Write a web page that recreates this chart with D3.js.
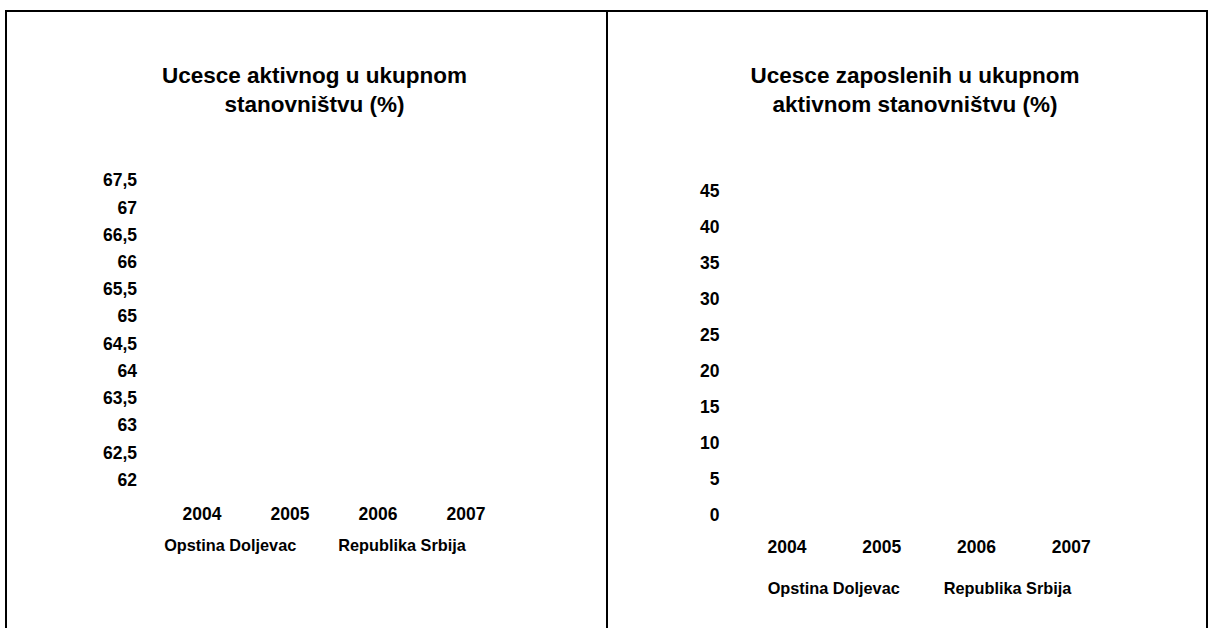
<!DOCTYPE html>
<html>
<head>
<meta charset="utf-8">
<script src="https://cdn.jsdelivr.net/npm/d3@7"></script>
<style>
  html, body { margin: 0; padding: 0; background: #fff; }
  svg { display: block; }
  text { font-family: "Liberation Sans", Arial, sans-serif; font-weight: bold; fill: #000; }
</style>
</head>
<body>
<svg id="chart" width="1213" height="628"></svg>
<script>
// ---- Data (no bar values are visible, so they are left unknown) ----
const categories = ["2004", "2005", "2006", "2007"];
const seriesNames = ["Opstina Doljevac", "Republika Srbija"];

// Chart 1: Ucesce aktivnog u ukupnom stanovništvu (%)
const title1 = ["Ucesce aktivnog u ukupnom", "stanovništvu (%)"];
const yTicks1 = [62, 62.5, 63, 63.5, 64, 64.5, 65, 65.5, 66, 66.5, 67, 67.5];
const active_Doljevac = [null, null, null, null];
const active_Srbija = [null, null, null, null];

// Chart 2: Ucesce zaposlenih u ukupnom aktivnom stanovništvu (%)
const title2 = ["Ucesce zaposlenih u ukupnom", "aktivnom stanovništvu (%)"];
const yTicks2 = [0, 5, 10, 15, 20, 25, 30, 35, 40, 45];
const employed_Doljevac = [null, null, null, null];
const employed_Srbija = [null, null, null, null];

const seriesColors = ["#9999ff", "#993366"];

// ---- Layout ----
const svg = d3.select("#chart");
const locale = d3.formatLocale({ decimal: ",", thousands: ".", grouping: [3], currency: ["", ""] });
const fmt = locale.format("~f");

const panels = [
  {
    box: { x: 6, y: 11, w: 601, h: 640 },
    title: title1, titleX: 314.5, titleY: [82.5, 111.5],
    x: [158, 510], y: [479, 179.5],
    yTicks: yTicks1, series: [active_Doljevac, active_Srbija],
    tickRight: 137, yearY: 513.5, legendX: 315, legendY: 551, legendGap: 42
  },
  {
    box: { x: 607, y: 11, w: 600, h: 640 },
    title: title2, titleX: 915, titleY: [82.5, 111.5],
    x: [739.7, 1118.5], y: [514.5, 190.5],
    yTicks: yTicks2, series: [employed_Doljevac, employed_Srbija],
    tickRight: 719.5, yearY: 547, legendX: 919.5, legendY: 594, legendGap: 44
  }
];

panels.forEach(p => {
  // panel frame
  svg.append("rect")
    .attr("x", p.box.x).attr("y", p.box.y)
    .attr("width", p.box.w).attr("height", p.box.h)
    .attr("fill", "none").attr("stroke", "#000").attr("stroke-width", 2);

  // title
  const t = svg.append("text")
    .attr("text-anchor", "middle")
    .style("font-size", "22.5px");
  p.title.forEach((line, i) => {
    t.append("tspan").attr("x", p.titleX).attr("y", p.titleY[i]).text(line);
  });

  // scales
  const y = d3.scaleLinear()
    .domain([p.yTicks[0], p.yTicks[p.yTicks.length - 1]])
    .range(p.y);
  const x0 = d3.scaleBand().domain(categories).range(p.x).paddingInner(0).paddingOuter(0);
  const x1 = d3.scaleBand().domain(seriesNames).range([0, x0.bandwidth()]).padding(0.2);

  // y axis (labels only)
  const gy = svg.append("g")
    .attr("transform", `translate(${p.tickRight},0)`)
    .call(d3.axisLeft(y).tickValues(p.yTicks).tickFormat(fmt).tickSize(0).tickPadding(0));
  gy.select(".domain").remove();
  gy.attr("font-family", null);
  gy.selectAll("text")
    .style("font-size", "17.5px")
    .attr("dy", "0.36em");

  // x axis (labels only)
  const gx = svg.append("g")
    .attr("transform", `translate(0,${p.y[0]})`)
    .call(d3.axisBottom(x0).tickSize(0).tickPadding(0));
  gx.select(".domain").remove();
  gx.attr("font-family", null);
  gx.selectAll("text")
    .style("font-size", "17.5px")
    .attr("y", p.yearY - p.y[0])
    .attr("dy", "0.36em");

  // bars (values unknown / not visible in the reference -> nothing rendered)
  const rows = [];
  p.series.forEach((vals, si) => {
    vals.forEach((v, ci) => {
      if (v !== null && v !== undefined) rows.push({ s: seriesNames[si], c: categories[ci], v, si });
    });
  });
  svg.append("g").selectAll("rect")
    .data(rows)
    .join("rect")
    .attr("x", d => x0(d.c) + x1(d.s))
    .attr("width", x1.bandwidth())
    .attr("y", d => y(d.v))
    .attr("height", d => y.range()[0] - y(d.v))
    .attr("fill", d => seriesColors[d.si]);

  // legend (text only, centered under the plot)
  const lg = svg.append("g");
  const items = lg.selectAll("text")
    .data(seriesNames)
    .join("text")
    .style("font-size", "16.3px")
    .attr("y", p.legendY)
    .text(d => d);
  const widths = items.nodes().map(n => n.getComputedTextLength());
  const total = d3.sum(widths) + p.legendGap * (widths.length - 1);
  let cx = p.legendX - total / 2;
  items.each(function (d, i) {
    d3.select(this).attr("x", cx);
    cx += widths[i] + p.legendGap;
  });
});
</script>
</body>
</html>
